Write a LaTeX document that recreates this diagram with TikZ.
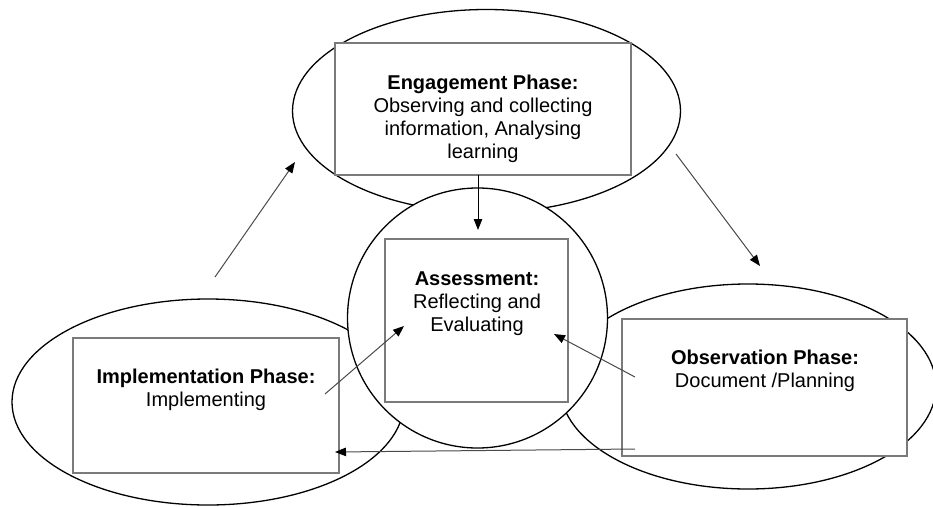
\documentclass[tikz,border=0pt]{standalone}
\usepackage{fontspec}
\setmainfont{Liberation Sans}
\usetikzlibrary{shapes.geometric,arrows.meta}
\definecolor{boxline}{HTML}{7A7A7A}
\definecolor{arrowline}{HTML}{4A4A4A}
\begin{document}
\begin{tikzpicture}[x=1pt,y=-1pt,
  oval/.style={draw=black,line width=1.3pt,fill=white,ellipse,inner sep=0pt},
  hub/.style={draw=black,line width=1.3pt,fill=white,circle,inner sep=0pt},
  panel/.style={draw=boxline,line width=1.3pt,fill=white,rectangle,inner sep=0pt},
  label/.style={align=center,inner sep=0pt,font=\fontsize{20}{23}\selectfont},
  flow/.style={draw=arrowline,line width=1pt,-{Triangle[length=11pt,width=8.5pt,color=black]}}]
\useasboundingbox (0,0) rectangle (933,506);

% phase ovals
\node[oval,minimum width=388,minimum height=203] (engOval) at (486.5,111) {};
\node[oval,minimum width=392,minimum height=206] (impOval) at (208,402) {};
\node[oval,minimum width=376,minimum height=205] (obsOval) at (748,386.5) {};

% central assessment circle
\node[hub,minimum size=260] (hubCircle) at (477.5,318) {};

% text panels
\node[panel,minimum width=296,minimum height=132] (engBox) at (483,109) {};
\node[panel,minimum width=183,minimum height=163] (hubBox) at (476.5,320.5) {};
\node[panel,minimum width=266,minimum height=135] (impBox) at (206,405.5) {};
\node[panel,minimum width=285,minimum height=137] (obsBox) at (764.5,387.5) {};

% texts
\node[label] (engText) at (483,119) {\textbf{Engagement Phase:}\\Observing and collecting\\information, Analysing\\learning};
\node[label] (hubText) at (477,304) {\textbf{Assessment:}\\Reflecting and\\Evaluating};
\node[label] (impText) at (206,390) {\textbf{Implementation Phase:}\\Implementing};
\node[label] (obsText) at (765,371) {\textbf{Observation Phase:}\\Document /Planning};

% arrow end points
\coordinate (upStart) at (215,277);
\coordinate (upEnd) at (295,162);
\coordinate (downStart) at (676,154);
\coordinate (downEnd) at (760,266);
\coordinate (engOut) at (478,175);
\coordinate (hubInTop) at (478,230);
\coordinate (impOut) at (325,394);
\coordinate (hubInLeft) at (404,326);
\coordinate (obsOut) at (635,377);
\coordinate (hubInRight) at (554,334);
\coordinate (obsLow) at (635,449);
\coordinate (impIn) at (335,452);

% connectors
\draw[flow] (upStart) -- (upEnd);
\draw[flow] (downStart) -- (downEnd);
\draw[flow,draw=black] (engOut) -- (hubInTop);
\draw[flow] (impOut) -- (hubInLeft);
\draw[flow] (obsOut) -- (hubInRight);
\draw[flow] (obsLow) -- (impIn);
\end{tikzpicture}
\end{document}
